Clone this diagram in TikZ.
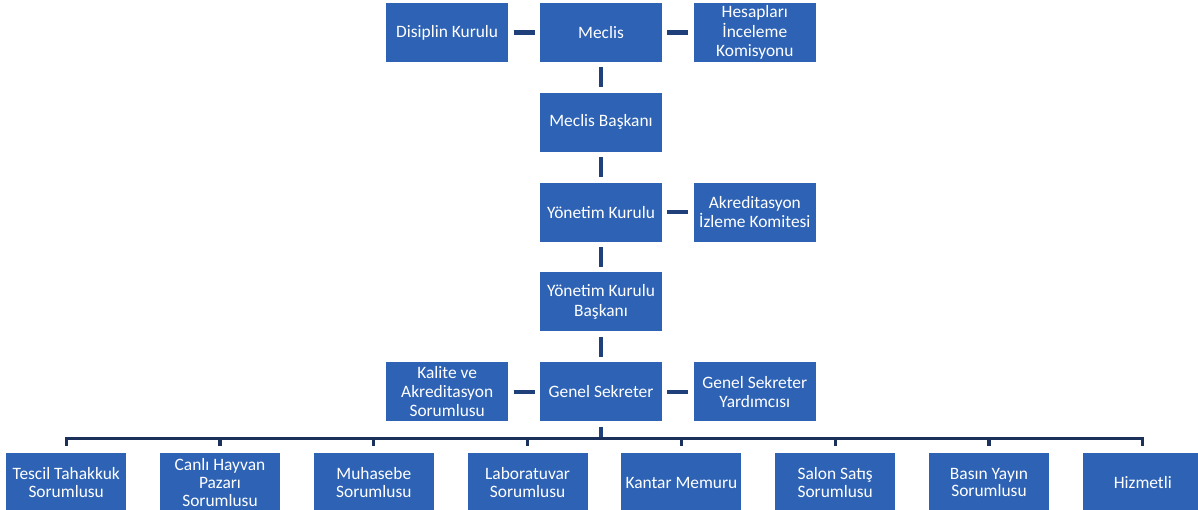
\documentclass[tikz,border=0pt]{standalone}
\usepackage{fontspec}
\setmainfont{Carlito}
\usepackage{tikz}
\definecolor{boxblue}{RGB}{45,98,180}
\definecolor{linkblue}{RGB}{31,64,122}
\definecolor{busblue}{RGB}{28,48,92}
\tikzset{
    unit/.style={rectangle, fill=boxblue, text=white, minimum width=61pt, minimum height=29.5pt, inner sep=0.3pt, align=center, font=\fontsize{8.7}{9.6}\selectfont},
    staff/.style={unit, minimum width=60pt, font=\fontsize{8.7}{8.8}\selectfont},
    link/.style={-, line width=2.2pt, draw=linkblue, shorten >=2.5pt, shorten <=2.5pt},
    busline/.style={-, line width=1.6pt, draw=busblue, line join=miter} }
\usetikzlibrary{positioning}

\begin{document}
\begin{tikzpicture}[node distance=15pt]
            \useasboundingbox (-300.5pt,16.25pt) rectangle (298.5pt,-238.25pt);
            \node[unit] (meclis) {Meclis};
            \node[unit, left=15.5pt of meclis] (disiplin) {Disiplin Kurulu};
            \node[unit, right=15.5pt of meclis] (hesap) {Hesapları\\İnceleme\\Komisyonu};
            \node[unit, below=of meclis] (mbaskan) {Meclis Başkanı};
            \node[unit, below=of mbaskan] (yk) {Yönetim Kurulu};
            \node[unit, right=15.5pt of yk] (akred) {Akreditasyon\\İzleme Komitesi};
            \node[unit, below=of yk] (ykb) {Yönetim Kurulu\\Başkanı};
            \node[unit, below=of ykb] (gs) {Genel Sekreter};
            \node[unit, left=15.5pt of gs] (kalite) {Kalite ve\\Akreditasyon\\Sorumlusu};
            \node[unit, right=15.5pt of gs] (gsy) {Genel Sekreter\\Yardımcısı};
            % ----
            \node[staff, below left=15.5pt and 6.5pt of gs.south] (lab) {Laboratuvar\\Sorumlusu};
            \node[staff, left=16.5pt of lab] (muhasebe) {Muhasebe\\Sorumlusu};
            \node[staff, left=16.5pt of muhasebe] (hayvan) {Canlı Hayvan\\Pazarı\\Sorumlusu};
            \node[staff, left=16.5pt of hayvan] (tescil) {Tescil Tahakkuk\\Sorumlusu};
            \node[staff, below right=15.5pt and 10pt of gs.south] (kantar) {Kantar Memuru};
            \node[staff, right=16.5pt of kantar] (salon) {Salon Satış\\Sorumlusu};
            \node[staff, right=16.5pt of salon] (basin) {Basın Yayın\\Sorumlusu};
            \node[staff, right=16.5pt of basin] (hizmet) {Hizmetli};
            \coordinate[below=8.5pt of gs.south] (bus);
            % ----
            \path[link]
                (disiplin) edge (meclis)
                (meclis) edge (hesap)
                (meclis) edge (mbaskan)
                (mbaskan) edge (yk)
                (yk) edge (akred)
                (yk) edge (ykb)
                (ykb) edge (gs)
                (kalite) edge (gs)
                (gs) edge (gsy);
            \draw[link, shorten >=0pt] (gs) -- (bus);
            \draw[busline] ([yshift=3.5pt]tescil.north) |- (bus) -| ([yshift=3.5pt]hizmet.north);
            \foreach \n in {hayvan, muhasebe, lab, kantar, salon, basin}
                \draw[busline] (\n.north |- bus) -- ([yshift=3.5pt]\n.north);
\end{tikzpicture}
\end{document}
